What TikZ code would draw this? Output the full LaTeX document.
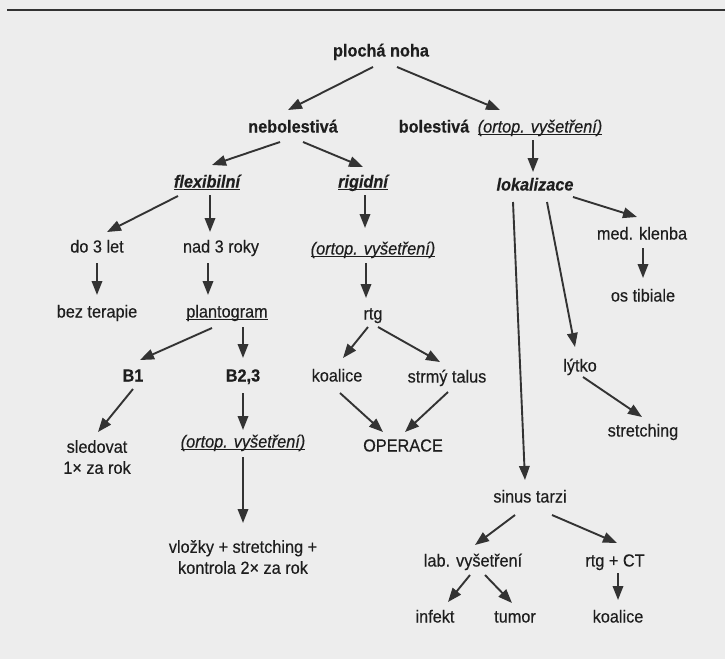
\documentclass[tikz,border=0pt]{standalone}
\usepackage{fontspec}
\setmainfont{Liberation Sans}[FakeStretch=0.93,FakeBold=0.35]
\usetikzlibrary{arrows.meta,calc}
\definecolor{bg}{HTML}{EDEDED}
\definecolor{ink}{HTML}{1E1E1E}
\definecolor{arrowink}{HTML}{333333}
\newcommand{\myul}[1]{\setbox0\hbox{#1}\rlap{\rule[-2.8pt]{\wd0}{1.2pt}}\box0}
\newcommand{\conn}[4]{\draw[arr] ($(#1)+(#2)$) -- ($(#3)+(#4)$);}
\begin{document}
\begin{tikzpicture}[x=1pt,y=-1pt,
  lbl/.style={inner sep=0pt,text=ink,font=\fontsize{17.5}{21}\selectfont,align=center,text height=12.5pt,text depth=3.5pt},
  blbl/.style={lbl,font=\fontsize{17.5}{21}\selectfont\bfseries},
  arr/.style={draw=arrowink,line width=1.9pt,-{Triangle[length=14pt,width=10.5pt]}}]
\useasboundingbox (0,0) rectangle (725,659);
\fill[bg] (0,0) rectangle (725,659);
\draw[arrowink,line width=1.5pt] (7,10) -- (725,10);
% nodes
\node[blbl] (pn) at (381,52) {plochá noha};
\node[blbl] (neb) at (293,128) {nebolestivá};
\node[blbl] (bol) at (434,128) {bolestivá};
\node[lbl] (ort1) at (540,128) {\myul{\itshape (ortop. vyšetření)}};
\node[blbl] (flex) at (207,183) {\myul{\itshape flexibilní}};
\node[blbl] (rig) at (363,183) {\myul{\itshape rigidní}};
\node[blbl] (lok) at (535,186) {\itshape lokalizace};
\node[lbl] (d3) at (97,248) {do 3 let};
\node[lbl] (n3) at (221,248) {nad 3 roky};
\node[lbl] (ort2) at (373,250) {\myul{\itshape (ortop. vyšetření)}};
\node[lbl] (med) at (642,235) {med. klenba};
\node[lbl] (bez) at (97,313) {bez terapie};
\node[lbl] (plant) at (227,313) {\myul{plantogram}};
\node[lbl] (rtg) at (373,315) {rtg};
\node[lbl] (ostib) at (643,297) {os tibiale};
\node[blbl] (b1) at (133,377) {B1};
\node[blbl] (b23) at (243,377) {B2,3};
\node[lbl] (koal1) at (337,377) {koalice};
\node[lbl] (strmy) at (447,378) {strmý talus};
\node[lbl] (lytko) at (580,367) {lýtko};
\node[lbl,text height=,text depth=] (sled) at (97,457) {sledovat\\1× za rok};
\node[lbl] (ort3) at (243,443) {\myul{\itshape (ortop. vyšetření)}};
\node[lbl] (oper) at (403,447) {OPERACE};
\node[lbl] (str1) at (643,432) {stretching};
\node[lbl] (sinus) at (530,498) {sinus tarzi};
\node[lbl,text height=,text depth=] (vloz) at (243,557) {vložky + stretching +\\kontrola 2× za rok};
\node[lbl] (lab) at (473,562) {lab. vyšetření};
\node[lbl] (rtgct) at (615,562) {rtg + CT};
\node[lbl] (inf) at (435,618) {infekt};
\node[lbl] (tum) at (515,618) {tumor};
\node[lbl] (koal2) at (618,618) {koalice};
% connectors
\conn{pn}{-8,15}{neb}{-5,-18}
\conn{pn}{16,15}{bol}{66,-18}
\conn{neb}{-13,14}{flex}{5,-18}
\conn{neb}{10,14}{rig}{0,-16}
\conn{ort1}{-7,12}{lok}{-2,-14}
\conn{flex}{-29,13}{d3}{10,-16}
\conn{flex}{3,12}{n3}{-11,-16}
\conn{rig}{2,12}{ort2}{-8,-22}
\conn{d3}{0,15}{bez}{0,-18}
\conn{n3}{-13,15}{plant}{-19,-18}
\conn{ort2}{-7,13}{rtg}{-7,-17}
\conn{lok}{38,11}{med}{-5,-18}
\conn{med}{1,13}{ostib}{0,-19}
\conn{lok}{12,16}{lytko}{-5,-20}
\conn{lok}{-22,16}{sinus}{-5,-18}
\conn{plant}{-15,15}{b1}{7,-17}
\conn{plant}{16,14}{b23}{0,-19}
\conn{rtg}{-5,12}{koal1}{6,-19}
\conn{rtg}{5,12}{strmy}{-7,-16}
\conn{b1}{0,12}{sled}{1,-25}
\conn{b23}{0,16}{ort3}{0,-13}
\conn{koal1}{3,16}{oper}{-20,-15}
\conn{strmy}{1,14}{oper}{2,-15}
\conn{lytko}{3,10}{str1}{-1,-15}
\conn{ort3}{0,14}{vloz}{0,-34}
\conn{sinus}{-15,17}{lab}{2,-17}
\conn{sinus}{22,17}{rtgct}{2,-19}
\conn{lab}{-3,13}{inf}{13,-16}
\conn{lab}{12,13}{tum}{-3,-15}
\conn{rtgct}{3,11}{koal2}{0,-18}
\end{tikzpicture}
\end{document}
